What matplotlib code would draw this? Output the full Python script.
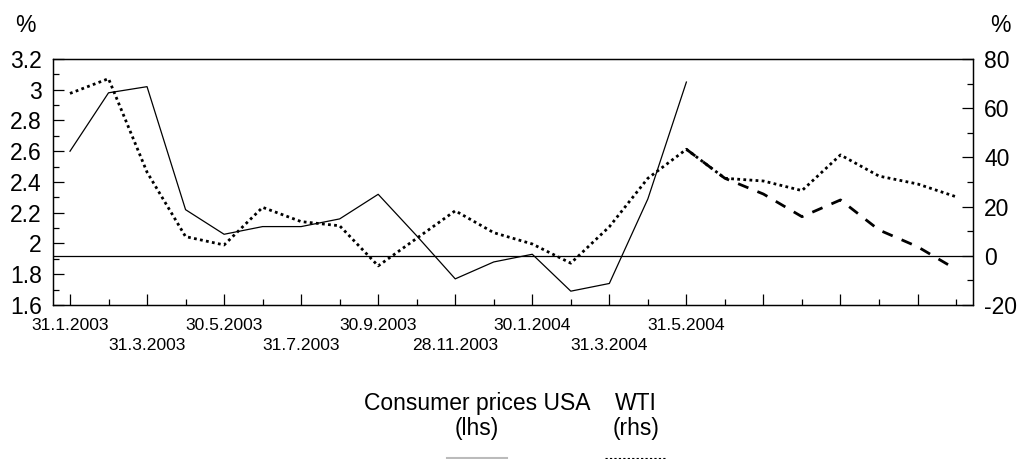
import numpy as np
import matplotlib.pyplot as plt
from matplotlib.lines import Line2D

plt.rcParams['font.family'] = ['Liberation Sans', 'DejaVu Sans']

# monthly, Jan 2003 .. Dec 2004 (24 points)
months = np.arange(24)
cpi = [2.60, 2.98, 3.02, 2.22, 2.06, 2.11, 2.11, 2.16, 2.32, 2.05, 1.77, 1.88,
       1.93, 1.69, 1.74, 2.29, 3.05]
wti = [66, 72, 34, 7.8, 4.4, 19.7, 13.9, 12.2, -4.1, 7.1, 18.3, 9.4,
       4.8, -3.0, 11.8, 31.5, 43.3, 31.5, 30.4, 26.5, 41, 32.4, 29.2, 24]
wti_fc_start = 16
wti_fc = [43.3, 31.5, 25.1, 15.9, 22.7, 10.5, 3.7, -5.5]
xlabels = ["31.1.2003", "\n31.3.2003", "30.5.2003", "\n31.7.2003", "30.9.2003",
           "\n28.11.2003", "30.1.2004", "\n31.3.2004", "31.5.2004", "", "", ""]

fig = plt.figure(figsize=(10.18, 4.59), dpi=100)
ax = fig.add_axes([0.0521, 0.3355, 0.9037, 0.536])
ax2 = ax.twinx()

ax.plot(months[:len(cpi)], cpi, color='black', lw=0.9, zorder=3)
ax2.axhline(0, color='black', lw=0.9)
ax2.plot(months, wti, color='black', lw=2, linestyle=(0, (1, 1.2)))
ax2.plot(months[wti_fc_start:wti_fc_start + len(wti_fc)], wti_fc, color='black',
         lw=2, linestyle=(0, (4, 3.5)))

ax.set_xlim(-0.44, 23.44)
ax.set_ylim(1.6, 3.2)
ax2.set_ylim(-20, 80)

ax.set_xticks(months[::2])
ax.set_xticklabels(xlabels, fontsize=12.6)
for lab in ax.get_xticklabels():
    lab.set_linespacing(1.45)
ax.set_xticks(months[1::2], minor=True)
ax.set_yticks(np.arange(1.6, 3.21, 0.2))
ax.set_yticklabels(["1.6", "1.8", "2", "2.2", "2.4", "2.6", "2.8", "3", "3.2"], fontsize=16.5)
ax.set_yticks(np.arange(1.7, 3.2, 0.2), minor=True)
ax2.set_yticks(np.arange(-20, 81, 20))
ax2.set_yticklabels(["-20", "0", "20", "40", "60", "80"], fontsize=16.5)
ax2.set_yticks(np.arange(-10, 80, 20), minor=True)

ax.tick_params(axis='x', which='major', direction='in', length=8, width=0.9, pad=9)
ax.tick_params(axis='x', which='minor', direction='in', length=4.5, width=0.9)
ax.tick_params(axis='y', which='major', direction='in', length=8, width=0.9, pad=8)
ax.tick_params(axis='y', which='minor', direction='in', length=4.5, width=0.9)
ax2.tick_params(axis='y', which='major', direction='in', length=8, width=0.9, pad=8)
ax2.tick_params(axis='y', which='minor', direction='in', length=4.5, width=0.9)
for a in (ax, ax2):
    for s in a.spines.values():
        s.set_linewidth(0.9)

fig.text(25 / 1018, 1 - 26 / 459, "%", fontsize=16.5, ha='center', va='center')
fig.text(1000 / 1018, 1 - 26 / 459, "%", fontsize=16.5, ha='center', va='center')

# legend: labels above the line samples
fig.text(477 / 1018, 1 - 416 / 459, "Consumer prices USA\n(lhs)", fontsize=16.5,
         ha='center', va='center', linespacing=1.15)
fig.text(636 / 1018, 1 - 416 / 459, "WTI\n(rhs)", fontsize=16.5,
         ha='center', va='center', linespacing=1.15)
fig.add_artist(Line2D([447 / 1018, 507 / 1018], [1 - 458 / 459] * 2,
                      color='#bbbbbb', lw=1.5, transform=fig.transFigure))
fig.add_artist(Line2D([605 / 1018, 667 / 1018], [1 - 458 / 459] * 2,
                      color='black', lw=0.8, linestyle=(0, (2, 2)),
                      transform=fig.transFigure))

plt.savefig('out.png', dpi=100)
